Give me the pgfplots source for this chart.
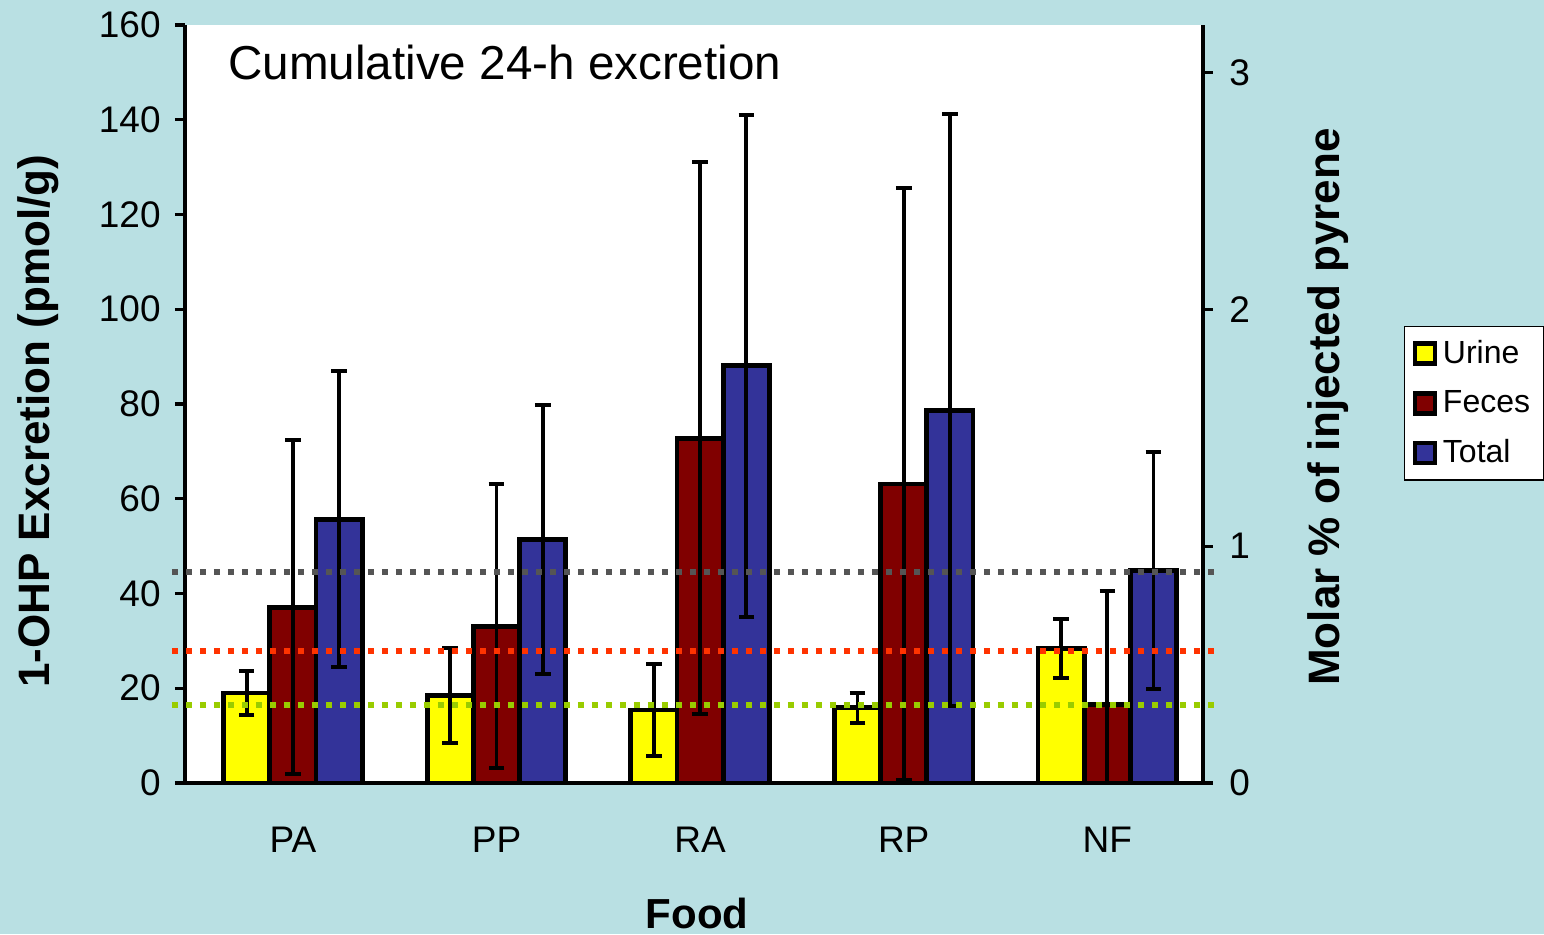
\documentclass[border=0pt]{standalone}
\usepackage{pgfplots}
\pgfplotsset{compat=1.18}
\usepackage{fontspec}
\setmainfont{Liberation Sans}
\definecolor{bg}{HTML}{B9E0E3}
\definecolor{urine}{HTML}{FFFF00}
\definecolor{feces}{HTML}{800000}
\definecolor{total}{HTML}{333399}
\definecolor{lgray}{HTML}{555555}
\definecolor{lred}{HTML}{FF3300}
\definecolor{lgreen}{HTML}{99CC00}
\begin{document}
\begin{tikzpicture}
\fill[bg] (-92.5pt,-75.5pt) rectangle (679.5pt,391.5pt);
\begin{axis}[
  at={(0,0)}, anchor=south west,
  scale only axis, width=509pt, height=379pt,
  xmin=-0.53, xmax=4.47, ymin=0, ymax=160,
  axis background/.style={fill=white},
  axis x line*=bottom, axis y line*=left,
  axis line style={line width=1.6pt, -},
  ybar=0pt, bar width=0.227,
  xtick={0,1,2,3,4}, xticklabels={PA,PP,RA,RP,NF},
  major x tick style={draw=none},
  ytick={0,20,...,160},
  tick align=outside, major tick length=5pt,
  tick style={line width=1.6pt, black},
  /pgf/number format/assume math mode=true,
  yticklabel style={font=\fontsize{18.5}{20}\selectfont, anchor=east, inner sep=0pt, xshift=-7pt},
  xticklabel style={font=\fontsize{18.5}{20}\selectfont, anchor=center, yshift=-23.5pt},
  ylabel={\bfseries 1-OHP Excretion (pmol/g)},
  ylabel style={font=\fontsize{22}{24}\selectfont, at={(axis description cs:-0.1444,0.477)}, anchor=center},
  xlabel={\bfseries Food},
  xlabel style={font=\fontsize{21}{24}\selectfont, at={(axis description cs:0.503,-0.1715)}, anchor=center},
  legend style={at={(1.1974,0.6029)}, anchor=north west, draw=black, line width=0.6pt, fill=white,
    font=\fontsize{16}{18}\selectfont, inner xsep=4pt, inner ysep=5pt, row sep=8pt,
    nodes={inner xsep=3pt}},
  legend cell align=left,
  legend image code/.code={\draw[#1, line width=2.2pt] (0pt,-5pt) rectangle (10pt,5pt);},
  error bars/y dir=both, error bars/y explicit,
  error bars/error mark=|,
  error bars/error bar style={line width=1.9pt, black},
  error bars/error mark options={line width=2pt, mark size=3.9pt, black},
]
\addplot[fill=urine, draw=black, line width=2.4pt] coordinates {
  (0,19.0) +- (0,4.7)
  (1,18.4) +- (0,10.0)
  (2,15.4) +- (0,9.8)
  (3,15.9) +- (0,3.2)
  (4,28.4) +- (0,6.3)
};
\addlegendentry{Urine}
\addplot[fill=feces, draw=black, line width=2.4pt] coordinates {
  (0,37.1) +- (0,35.3)
  (1,33.1) +- (0,30.0)
  (2,72.8) +- (0,58.2)
  (3,63.1) +- (0,62.4)
  (4,16.5) +- (0,24.0)
};
\addlegendentry{Feces}
\addplot[fill=total, draw=black, line width=2.4pt] coordinates {
  (0,55.7) +- (0,31.3)
  (1,51.4) +- (0,28.3)
  (2,88.1) +- (0,53.0)
  (3,78.7) +- (0,62.5)
  (4,44.8) +- (0,25.0)
};
\addlegendentry{Total}
\node[anchor=west, font=\fontsize{23.8}{26}\selectfont, inner sep=0pt] at (rel axis cs:0.0422,0.951) {Cumulative 24-h excretion};
\end{axis}
\begin{axis}[
  at={(0,0)}, anchor=south west,
  scale only axis, width=509pt, height=379pt,
  xmin=-0.53, xmax=4.47, ymin=0, ymax=3.2,
  axis x line=none, axis y line*=right,
  axis line style={line width=1.6pt, -},
  ytick={0,1,2,3},
  tick align=outside, major tick length=5pt,
  tick style={line width=1.6pt, black},
  clip=false,
  /pgf/number format/assume math mode=true,
  yticklabel style={font=\fontsize{18.5}{20}\selectfont, anchor=west, inner sep=0pt, xshift=8pt},
  ylabel={\bfseries Molar \% of injected pyrene},
  ylabel style={font=\fontsize{22}{24}\selectfont, at={(axis description cs:1.1228,0.496)}, anchor=center, rotate=0},
]
\addplot[lgray, line width=3pt, dash pattern=on 3pt off 4pt] coordinates {(-0.594,0.891) (4.553,0.891)};
\addplot[lred, line width=3pt, dash pattern=on 3pt off 4pt] coordinates {(-0.594,0.557) (4.553,0.557)};
\addplot[lgreen, line width=3pt, dash pattern=on 3pt off 4pt] coordinates {(-0.594,0.329) (4.553,0.329)};
\end{axis}
\pgfresetboundingbox
\path[use as bounding box] (-92.5pt,-75.5pt) rectangle (679.5pt,391.5pt);
\end{tikzpicture}
\end{document}
